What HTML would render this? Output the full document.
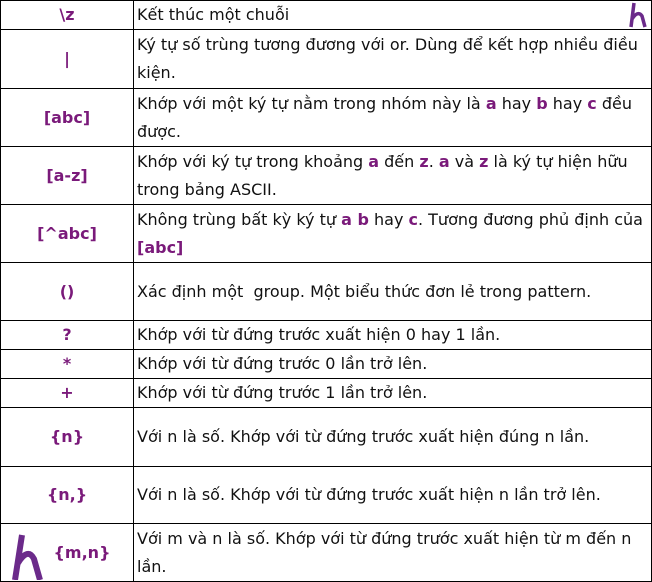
<!DOCTYPE html>
<html><head><meta charset="utf-8"><style>
body{margin:0;background:#fff;width:652px;height:581px;overflow:hidden;position:relative;font-family:"DejaVu Sans","Liberation Sans",sans-serif;}
table{position:absolute;left:0;top:0;border-collapse:collapse;width:651px;table-layout:fixed;}
td{border:1.5px solid #000;font-size:16px;line-height:28px;padding:0 0 0 3px;color:#111;vertical-align:middle;overflow:hidden;}
td.k{text-align:center;font-weight:bold;color:#7a1a7a;padding:0;}
b{color:#7a1a7a;}
.logo{position:absolute;}
</style></head><body>
<table>
<colgroup><col style="width:133px"><col style="width:518px"></colgroup>
<tr style="height:29px"><td class="k">\z</td><td>Kết thúc một chuỗi</td></tr>
<tr style="height:59px"><td class="k">|</td><td>Ký tự số trùng tương đương với or. Dùng để kết hợp nhiều điều kiện.</td></tr>
<tr style="height:58px"><td class="k">[abc]</td><td>Khớp với một ký tự nằm trong nhóm này là <b>a</b> hay <b>b</b> hay <b>c</b> đều được.</td></tr>
<tr style="height:58px"><td class="k">[a-z]</td><td>Khớp với ký tự trong khoảng <b>a</b> đến <b>z</b>. <b>a</b> và <b>z</b> là ký tự hiện hữu trong bảng ASCII.</td></tr>
<tr style="height:58px"><td class="k">[^abc]</td><td>Không trùng bất kỳ ký tự <b>a b</b> hay <b>c</b>. Tương đương phủ định của <b>[abc]</b></td></tr>
<tr style="height:58px"><td class="k">()</td><td>Xác định một &nbsp;group. Một biểu thức đơn lẻ trong pattern.</td></tr>
<tr style="height:28px"><td class="k">?</td><td>Khớp với từ đứng trước xuất hiện 0 hay 1 lần.</td></tr>
<tr style="height:29px"><td class="k">*</td><td>Khớp với từ đứng trước 0 lần trở lên.</td></tr>
<tr style="height:29px"><td class="k">+</td><td>Khớp với từ đứng trước 1 lần trở lên.</td></tr>
<tr style="height:59px"><td class="k">{n}</td><td>Với n là số. Khớp với từ đứng trước xuất hiện đúng n lần.</td></tr>
<tr style="height:57px"><td class="k">{n,}</td><td>Với n là số. Khớp với từ đứng trước xuất hiện n lần trở lên.</td></tr>
<tr style="height:58px"><td class="k" style="padding-left:30px">{m,n}</td><td>Với m và n là số. Khớp với từ đứng trước xuất hiện từ m đến n lần.</td></tr>
</table>
<svg class="logo" style="left:628px;top:2px" width="22" height="26" viewBox="0 0 22 26"><path d="M6 1 L3 25 M4 17 Q10 8 14 14 L17 25" stroke="#6b2a8a" stroke-width="3.5" fill="none"/></svg>
<svg class="logo" style="left:10px;top:533px" width="34" height="47" viewBox="0 0 34 47"><path d="M12 2 L5 47 M8 30 Q18 14 24 26 L30 47" stroke="#6b2a8a" stroke-width="6" fill="none"/></svg>
</body></html>
